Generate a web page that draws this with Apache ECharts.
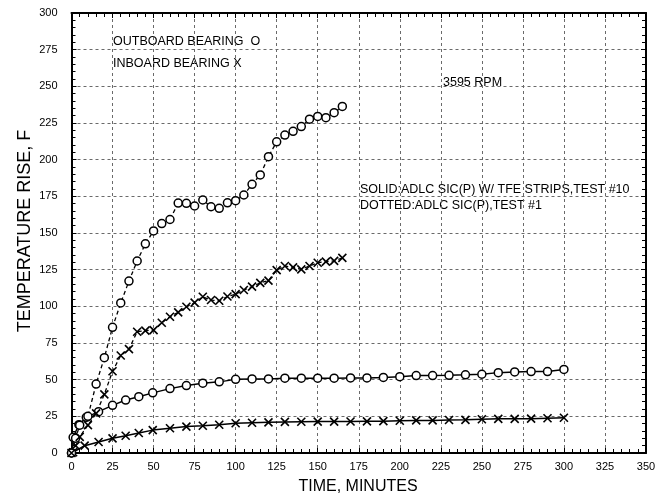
<!DOCTYPE html>
<html><head><meta charset="utf-8">
<script src="https://cdn.jsdelivr.net/npm/echarts@6/dist/echarts.min.js"></script>
<style>html,body{margin:0;padding:0;background:#fff}#c{width:666px;height:496px}</style>
</head><body><div id="c"></div>
<script>
// ---- data (time in minutes, temperature rise in F) ----
const solidOutT = [0, 1, 4.5, 9, 16.5, 25, 33, 41, 49.5, 60, 70, 80, 90, 100, 110, 120, 130, 140, 150, 160, 170, 180, 190, 200, 210, 220, 230, 240, 250, 260, 270, 280, 290, 300];
const solidOutV = [0, 10.7, 19.3, 24.3, 28.2, 32.5, 36.1, 38.4, 41, 43.9, 46, 47.6, 48.5, 50.2, 50.5, 50.5, 51, 51, 51, 51, 51.2, 51.2, 51.5, 52, 52.8, 52.8, 53, 53.3, 53.7, 54.8, 55.3, 55.5, 55.5, 57];
const solidInT = [1, 8, 16.5, 25, 33, 41, 49.5, 60, 70, 80, 90, 100, 110, 120, 130, 140, 150, 160, 170, 180, 190, 200, 210, 220, 230, 240, 250, 260, 270, 280, 290, 300];
const solidInV = [0.5, 5, 7.5, 10, 11.8, 13.6, 15.6, 16.9, 18, 18.6, 19.3, 20.3, 20.6, 20.9, 21.2, 21.3, 21.4, 21.4, 21.5, 21.6, 21.7, 22, 22.2, 22.2, 22.5, 22.6, 23, 23.3, 23.3, 23.4, 23.7, 24];
const dotOutT = [0, 2.5, 5, 10, 15, 20, 25, 30, 35, 40, 45, 50, 55, 60, 65, 70, 75, 80, 85, 90, 95, 100, 105, 110, 115, 120, 125, 130, 135, 140, 145, 150, 155, 160, 165];
const dotOutV = [0, 10, 19, 25, 47, 65, 85.7, 102.3, 117.2, 130.9, 142.6, 151.4, 156.4, 159.2, 170.4, 170.2, 168.4, 172.5, 167.9, 166.8, 170.6, 172, 175.9, 183.2, 189.6, 202, 212.2, 216.8, 219.3, 222.6, 227.6, 229.5, 228.6, 232, 236.3];
const dotInT = [0, 2.5, 5, 10, 15, 20, 25, 30, 35, 40, 45, 50, 55, 60, 65, 70, 75, 80, 85, 90, 95, 100, 105, 110, 115, 120, 125, 130, 135, 140, 145, 150, 155, 160, 165];
const dotInV = [0, 5, 11, 19, 27, 40, 55.7, 66.5, 70.8, 82.7, 83.4, 83.8, 88.8, 92.9, 95.9, 99.7, 102.5, 106.5, 104.3, 103.8, 106.7, 108.3, 111.1, 113.4, 116, 117.5, 124.7, 127.5, 126.6, 125.2, 127.5, 129.7, 130.5, 131, 133];
const xTicks = {min: 0, max: 350, step: 25};
const yTicks = {min: 0, max: 300, step: 25};
const annotations = [
  {text: 'OUTBOARD BEARING  O', x: 113, y: 42},
  {text: 'INBOARD BEARING X', x: 113, y: 64},
  {text: '3595 RPM', x: 443, y: 83},
  {text: 'SOLID:ADLC SIC(P) W/ TFE STRIPS,TEST #10', x: 360, y: 190},
  {text: 'DOTTED:ADLC SIC(P),TEST #1', x: 360, y: 206}
];
const xTitle = 'TIME, MINUTES';
const yTitle = 'TEMPERATURE RISE, F';

// ---- chart ----
const pairs = (t, v) => t.map((x, i) => [x, v[i]]);
const FONT = '"Liberation Sans", Arial, sans-serif';
const XSYM = 'path://M0,0L10,10M10,0L0,10';
const chart = echarts.init(document.getElementById('c'), null, {renderer: 'canvas'});

const gridLine = {show: true, lineStyle: {color: '#6a6a6a', width: 1, type: [3, 3]}};
const frameLine = {show: true, onZero: false, lineStyle: {color: '#000', width: 2}};
function xAx(pos, labels) {
  return {type: 'value', position: pos, min: xTicks.min, max: xTicks.max, interval: xTicks.step,
    axisLine: frameLine,
    axisTick: {show: true, inside: true, length: 5, lineStyle: {color: '#000', width: 1}},
    minorTick: {show: true, splitNumber: 5, length: 4, lineStyle: {color: '#000', width: 1}},
    splitLine: labels ? gridLine : {show: false},
    axisLabel: {show: labels, color: '#000', fontSize: 11, fontFamily: FONT, margin: 8}};
}
function yAx(pos, labels) {
  return {type: 'value', position: pos, min: yTicks.min, max: yTicks.max, interval: yTicks.step,
    axisLine: frameLine,
    axisTick: {show: true, inside: true, length: 5, lineStyle: {color: '#000', width: 1}},
    minorTick: {show: true, splitNumber: 5, length: 4, lineStyle: {color: '#000', width: 1}},
    splitLine: labels ? gridLine : {show: false},
    axisLabel: {show: labels, color: '#000', fontSize: 11, fontFamily: FONT, margin: 14}};
}
const option = {
  animation: false,
  backgroundColor: '#fff',
  grid: {left: 71.5, right: 20, top: 13, bottom: 43, containLabel: false},
  xAxis: [xAx('bottom', true), xAx('top', false)],
  yAxis: [yAx('left', true), yAx('right', false)],
  graphic: annotations.map(a => ({type: 'text', left: a.x, top: a.y - 7,
      style: {text: a.text, fill: '#000', font: '12.5px ' + FONT}}))
    .concat([
      {type: 'text', x: 358, y: 487,
        style: {text: xTitle, fill: '#000', font: '16px ' + FONT, align: 'center', verticalAlign: 'middle'}},
      {type: 'text', rotation: Math.PI / 2, x: 25, y: 231,
        style: {text: yTitle, fill: '#000', font: '18px ' + FONT, align: 'center', verticalAlign: 'middle'}}
    ]),
  series: [
    {type: 'line', data: pairs(solidOutT, solidOutV), symbol: 'circle', symbolSize: 8,
      lineStyle: {color: '#000', width: 1.5}, itemStyle: {color: '#fff', borderColor: '#000', borderWidth: 1.5}},
    {type: 'line', data: pairs(solidInT, solidInV), symbol: XSYM, symbolSize: [8, 8],
      lineStyle: {color: '#000', width: 1.5}, itemStyle: {color: '#000', borderColor: '#000', borderWidth: 1.6}},
    {type: 'line', data: pairs(dotOutT, dotOutV), symbol: 'circle', symbolSize: 8,
      lineStyle: {color: '#000', width: 1.3, type: [4, 3]}, itemStyle: {color: '#fff', borderColor: '#000', borderWidth: 1.5}},
    {type: 'line', data: pairs(dotInT, dotInV), symbol: XSYM, symbolSize: [8, 8],
      lineStyle: {color: '#000', width: 1.3, type: [4, 3]}, itemStyle: {color: '#000', borderColor: '#000', borderWidth: 1.6}}
  ]
};
chart.setOption(option);
</script></body></html>
